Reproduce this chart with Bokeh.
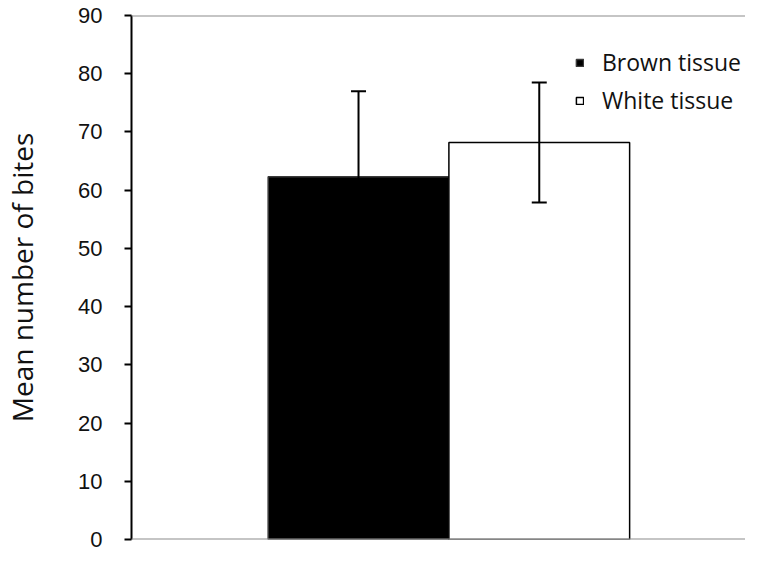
from bokeh.plotting import figure
from bokeh.models import (ColumnDataSource, Whisker, Legend, LegendItem, Span,
                          Range1d, FixedTicker, TeeHead)
from bokeh.embed import file_html
from bokeh.resources import INLINE

groups = ["Brown tissue", "White tissue"]
means = [62.3, 68.2]
errors = [14.7, 10.3]
fills = ["black", "white"]
outlines = ["#3a3a3a", "black"]
y_ticks = [0, 10, 20, 30, 40, 50, 60, 70, 80, 90]
y_label = "Mean number of bites"

bar_width = 0.287
xs = [0.504 + (i - 0.5) * bar_width for i in range(len(groups))]

src = ColumnDataSource(dict(
    x=xs, top=means, fill=fills, line=outlines, name=groups,
    upper=[m + e for m, e in zip(means, errors)],
    lower=[m - e for m, e in zip(means, errors)],
))

p = figure(width=745, height=551, output_backend="svg", toolbar_location=None,
           x_range=Range1d(0, 0.975), y_range=Range1d(0, 90),
           min_border_left=130, min_border_right=0, min_border_top=15,
           min_border_bottom=12)
p.outline_line_color = None
p.xgrid.visible = False
p.ygrid.visible = False
p.xaxis.visible = False

renderers = []
for i in range(len(groups)):
    r = p.vbar(x=[xs[i]], top=[means[i]], bottom=0, width=bar_width,
               fill_color=fills[i], line_color=outlines[i], line_width=1.5)
    renderers.append(r)

p.add_layout(Span(location=0, dimension="width", line_color="#8c8c8c", line_width=2))
p.add_layout(Span(location=90, dimension="width", line_color="#8c8c8c", line_width=2))

wh = Whisker(source=src, base="x", upper="upper", lower="lower",
             line_color="black", line_width=2, level="overlay",
             upper_head=TeeHead(size=15, line_color="black", line_width=2),
             lower_head=TeeHead(size=15, line_color="black", line_width=2))
p.add_layout(wh)

ya = p.yaxis[0]
ya.ticker = FixedTicker(ticks=y_ticks)
ya.axis_line_color = "black"
ya.axis_line_width = 2
ya.major_tick_line_color = "black"
ya.major_tick_line_width = 2
ya.major_tick_out = 7
ya.major_tick_in = 0
ya.minor_tick_line_color = None
ya.major_label_text_font = "Liberation Sans"
ya.major_label_text_font_size = "22px"
ya.major_label_text_color = "#111111"
ya.major_label_standoff = 22
ya.axis_label = y_label
ya.axis_label_text_font = "Open Sans"
ya.axis_label_text_font_size = "28px"
ya.axis_label_text_font_style = "normal"
ya.axis_label_text_color = "#111111"
ya.axis_label_standoff = 34

legend = Legend(items=[LegendItem(label=groups[i], renderers=[renderers[i]])
                       for i in range(len(groups))],
                location=(444, 423), padding=0, margin=0,
                border_line_color=None, background_fill_alpha=0,
                glyph_width=9, glyph_height=9, label_standoff=18,
                label_height=32, spacing=6,
                label_text_font="Open Sans", label_text_font_size="23px",
                label_text_color="#111111")
p.add_layout(legend)

open("out.html", "w").write(file_html(p, INLINE))
